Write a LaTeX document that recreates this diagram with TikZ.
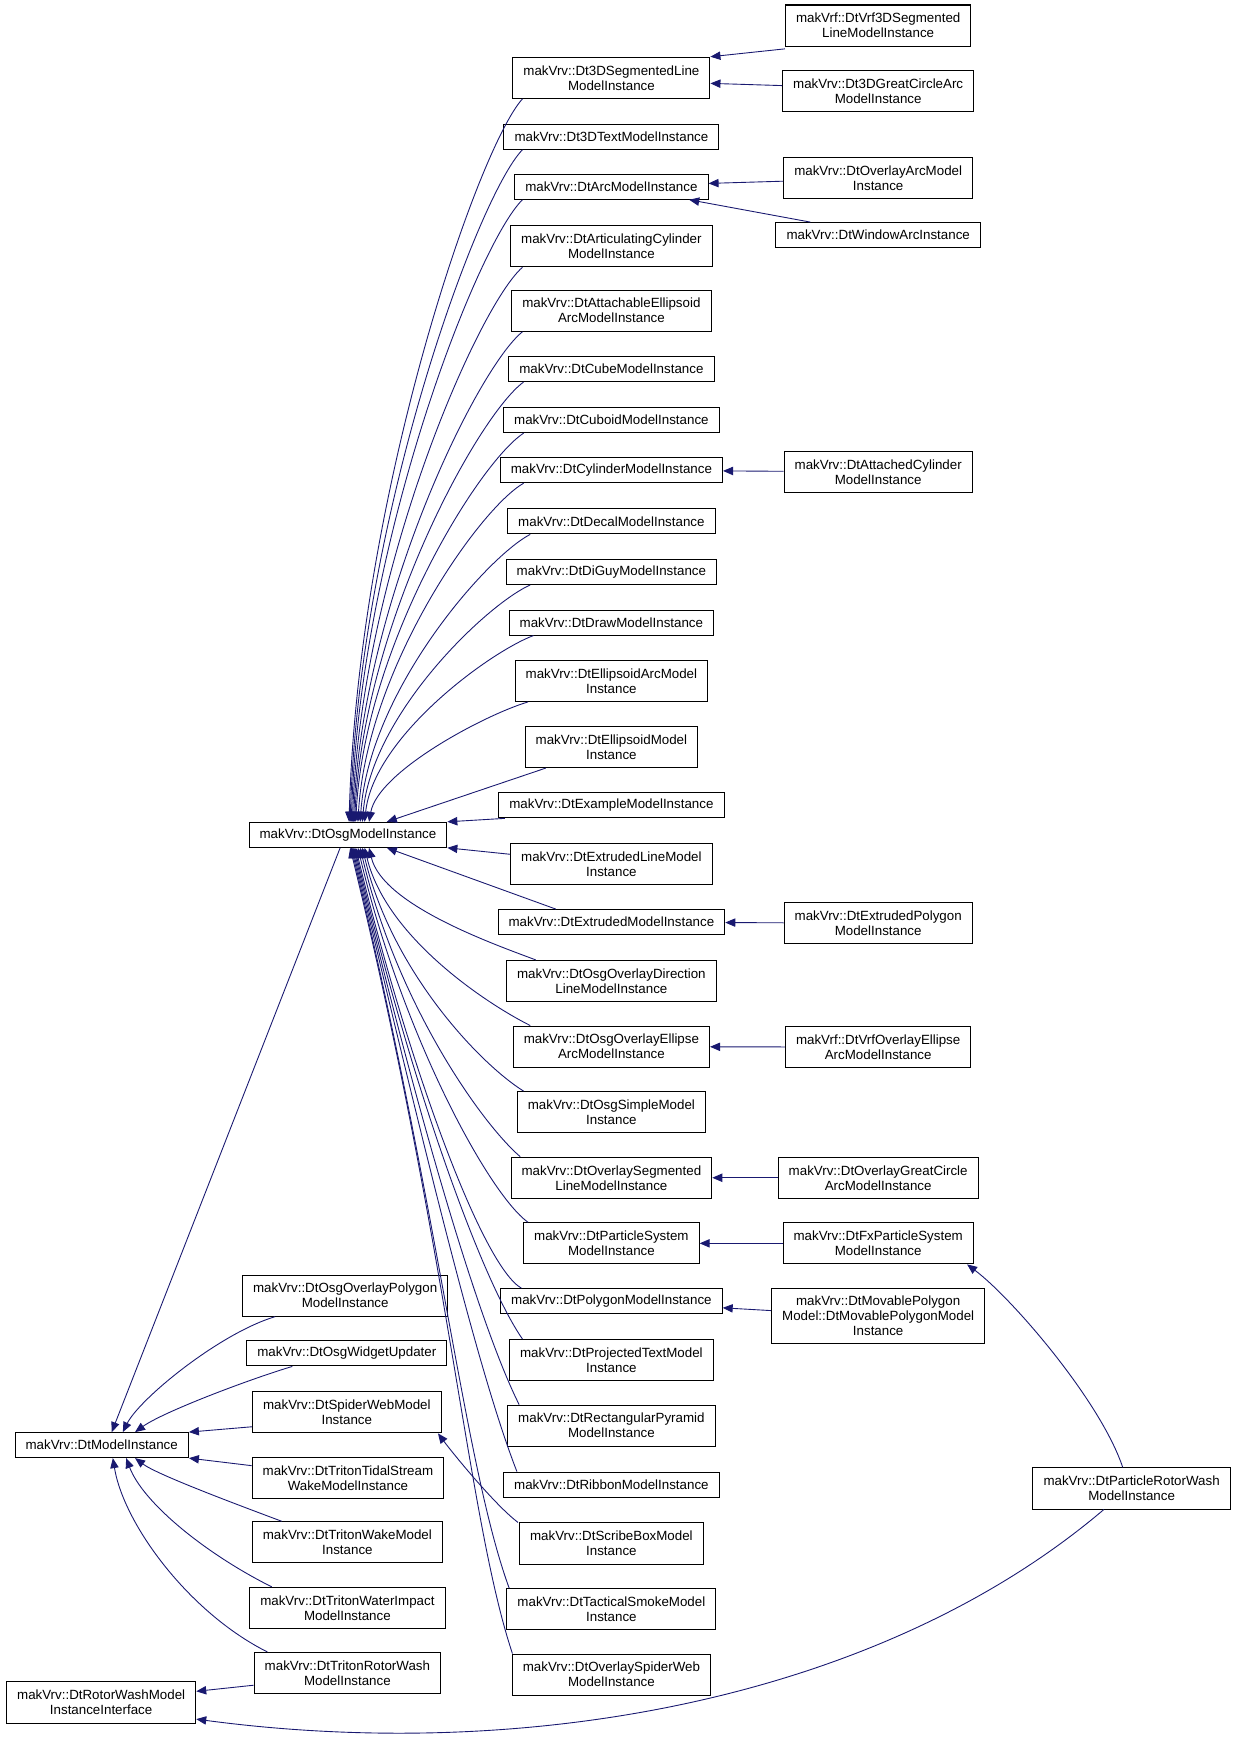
\documentclass[tikz,border=0pt]{standalone}
\usepackage{fontspec}
\setmainfont{Liberation Sans}
\usetikzlibrary{arrows.meta}
\definecolor{edgeblue}{RGB}{25,25,112}

\begin{document}
\begin{tikzpicture}[x=1pt,y=-1pt,
  cls/.style={draw, line width=0.9pt, fill=white, align=center,
    font=\fontsize{12}{13.5}\selectfont, inner xsep=9.5pt, inner ysep=2pt,
    minimum height=22.5pt},
  two/.style={minimum height=37pt},
  three/.style={minimum height=50pt},
  edge/.style={draw=edgeblue, line width=0.8pt, -{Triangle[length=9pt,width=7.5pt]}}]

\useasboundingbox (0,0) rectangle (1113,1568);

% left columns
\node[cls] (mi) at (91.5,1300) {makVrv::DtModelInstance};
\node[cls,two] (rwi) at (91,1531.5) {makVrv::DtRotorWashModel\\InstanceInterface};
\node[cls] (osg) at (313,751) {makVrv::DtOsgModelInstance};
\node[cls,two] (oop) at (310.5,1165.5) {makVrv::DtOsgOverlayPolygon\\ModelInstance};
\node[cls] (owu) at (312,1217.5) {makVrv::DtOsgWidgetUpdater};
\node[cls,two] (swm) at (312,1270.5) {makVrv::DtSpiderWebModel\\Instance};
\node[cls,two] (tts) at (313,1329.5) {makVrv::DtTritonTidalStream\\WakeModelInstance};
\node[cls,two] (twm) at (312.5,1387.5) {makVrv::DtTritonWakeModel\\Instance};
\node[cls,two] (twi) at (312.5,1446.5) {makVrv::DtTritonWaterImpact\\ModelInstance};
\node[cls,two] (trw) at (312.5,1505) {makVrv::DtTritonRotorWash\\ModelInstance};

% middle column
\node[cls,two] (c3dseg) at (550,70) {makVrv::Dt3DSegmentedLine\\ModelInstance};
\node[cls] (c3dtext) at (550,123) {makVrv::Dt3DTextModelInstance};
\node[cls] (carc) at (550,168) {makVrv::DtArcModelInstance};
\node[cls,two] (cartic) at (550,221.5) {makVrv::DtArticulatingCylinder\\ModelInstance};
\node[cls,two] (cattach) at (550,279.5) {makVrv::DtAttachableEllipsoid\\ArcModelInstance};
\node[cls] (ccube) at (550,332) {makVrv::DtCubeModelInstance};
\node[cls] (ccuboid) at (550,378) {makVrv::DtCuboidModelInstance};
\node[cls] (ccyl) at (550,423) {makVrv::DtCylinderModelInstance};
\node[cls] (cdecal) at (550,469) {makVrv::DtDecalModelInstance};
\node[cls] (cdiguy) at (550,514.5) {makVrv::DtDiGuyModelInstance};
\node[cls] (cdraw) at (550,560) {makVrv::DtDrawModelInstance};
\node[cls,two] (cellarc) at (550,612.5) {makVrv::DtEllipsoidArcModel\\Instance};
\node[cls,two] (cellmod) at (550,672) {makVrv::DtEllipsoidModel\\Instance};
\node[cls] (cex) at (550,724.5) {makVrv::DtExampleModelInstance};
\node[cls,two] (cextl) at (550,777.5) {makVrv::DtExtrudedLineModel\\Instance};
\node[cls] (cextm) at (550,829.5) {makVrv::DtExtrudedModelInstance};
\node[cls,two] (cdir) at (550,882.5) {makVrv::DtOsgOverlayDirection\\LineModelInstance};
\node[cls,two] (cell) at (550,941.5) {makVrv::DtOsgOverlayEllipse\\ArcModelInstance};
\node[cls,two] (csimple) at (550,1000.5) {makVrv::DtOsgSimpleModel\\Instance};
\node[cls,two] (cseg) at (550,1059.5) {makVrv::DtOverlaySegmented\\LineModelInstance};
\node[cls,two] (cpart) at (550,1118.5) {makVrv::DtParticleSystem\\ModelInstance};
\node[cls] (cpoly) at (550,1170.5) {makVrv::DtPolygonModelInstance};
\node[cls,two] (cproj) at (550,1223.5) {makVrv::DtProjectedTextModel\\Instance};
\node[cls,two] (crect) at (550,1282.5) {makVrv::DtRectangularPyramid\\ModelInstance};
\node[cls] (cribbon) at (550,1335.5) {makVrv::DtRibbonModelInstance};
\node[cls,two] (cscribe) at (550,1388.5) {makVrv::DtScribeBoxModel\\Instance};
\node[cls,two] (ctact) at (550,1447.5) {makVrv::DtTacticalSmokeModel\\Instance};
\node[cls,two] (cosw) at (550,1506.5) {makVrv::DtOverlaySpiderWeb\\ModelInstance};

% right columns
\node[cls,two] (vrf3d) at (790,23) {makVrf::DtVrf3DSegmented\\LineModelInstance};
\node[cls,two] (gca) at (790,82) {makVrv::Dt3DGreatCircleArc\\ModelInstance};
\node[cls,two] (oarc) at (790,160) {makVrv::DtOverlayArcModel\\Instance};
\node[cls] (warc) at (790,211.5) {makVrv::DtWindowArcInstance};
\node[cls,two] (acyl) at (790,424.5) {makVrv::DtAttachedCylinder\\ModelInstance};
\node[cls,two] (epoly) at (790,830.5) {makVrv::DtExtrudedPolygon\\ModelInstance};
\node[cls,two] (vell) at (790,942) {makVrf::DtVrfOverlayEllipse\\ArcModelInstance};
\node[cls,two] (ogc) at (790,1059.5) {makVrv::DtOverlayGreatCircle\\ArcModelInstance};
\node[cls,two] (fx) at (790,1118.5) {makVrv::DtFxParticleSystem\\ModelInstance};
\node[cls,three] (mpoly) at (790,1184) {makVrv::DtMovablePolygon\\Model::DtMovablePolygonModel\\Instance};
\node[cls,two] (prw) at (1018,1339) {makVrv::DtParticleRotorWash\\ModelInstance};

% children of DtOsgModelInstance, above it
\foreach \n/\s/\e/\a/\b in {c3dseg/-80/1/44/-293, c3dtext/-80/2/41/-273,
    carc/-80/3/39/-252, cartic/-80/4/35/-225, cattach/-80/5/32/-199,
    ccube/-79/6/29/-179, ccuboid/-79/7/26/-158, ccyl/-79/9/23/-138,
    cdecal/-73/11/21/-117, cdiguy/-73/13/18/-96, cdraw/-70/15/15/-76,
    cellarc/-75/19/12/-45}
  \draw[edge] ([xshift=\s pt]\n.south) .. controls +(-40,\a) and +(8,\b) .. ([xshift=\e pt]osg.north);
\draw[edge] ([xshift=-59pt]cellmod.south) -- ([xshift=35pt]osg.north);
\draw[edge] ([xshift=6pt]cex.south west) -- (osg.north east);

% children of DtOsgModelInstance, below it
\draw[edge] ([yshift=9pt]cextl.west) -- (osg.south east);
\draw[edge] ([xshift=-50pt]cextm.north) -- ([xshift=35pt]osg.south);
\foreach \n/\s/\e/\ax/\ay/\bx/\by in {cdir/-68/19/-40/-15/12/51, cell/-73/15/-40/-20/19/80,
    csimple/-79/13/-40/-25/26/110, cseg/-82/11/-35/-30/33/140, cpart/-75/9/-35/-25/40/169,
    cpoly/-81/7/-35/-20/48/198, cproj/-80/6/-35/-50/53/222, crect/-83/5/-35/-70/60/251,
    cribbon/-85/4/-35/-90/67/281, ctact/-92/3/-40/-110/80/333, cosw/-89/2/-40/-120/90/370}
  \draw[edge] ([xshift=\s pt]\n.north) .. controls +(\ax,\ay) and +(\bx,\by) .. ([xshift=\e pt]osg.south);

% children of DtModelInstance
\draw[edge] ([xshift=-7pt]osg.south) -- ([xshift=9pt]mi.north);
\draw[edge] ([xshift=-63pt]oop.south) .. controls +(-50,15) and +(15,-30) .. ([xshift=19pt]mi.north);
\draw[edge] ([xshift=-49pt]owu.south) .. controls +(-40,12) and +(25,-18) .. ([xshift=30pt]mi.north);
\draw[edge] ([yshift=-13pt]swm.west) -- (mi.north east);
\draw[edge] ([yshift=11pt]tts.west) -- (mi.south east);
\draw[edge] ([xshift=-59pt]twm.north) .. controls +(-40,-15) and +(20,15) .. ([xshift=30pt]mi.south);
\draw[edge] ([xshift=-68pt]twi.north) .. controls +(-60,-30) and +(15,40) .. ([xshift=22pt]mi.south);
\draw[edge] ([xshift=-72pt]trw.north) .. controls +(-70,-35) and +(10,60) .. ([xshift=10pt]mi.south);

% rotor wash interface
\draw[edge] ([yshift=-11pt]trw.west) -- ([yshift=10pt]rwi.east);
\draw[edge] ([xshift=-25pt]prw.south) .. controls +(-200,170) and +(300,40) .. ([yshift=-15pt]rwi.east);

% other links
\draw[edge] ([xshift=-84pt]cscribe.north) .. controls +(-20,-15) and +(15,20) .. ([xshift=82pt]swm.south);
\draw[edge] ([xshift=-8pt]prw.north) .. controls +(-20,-60) and +(40,30) .. ([xshift=80pt]fx.south);
\draw[edge] ([yshift=-2pt]vrf3d.south west) -- (c3dseg.north east);
\draw[edge] ([yshift=5pt]gca.west) -- ([yshift=-5pt]c3dseg.east);
\draw[edge] ([yshift=-3pt]oarc.west) -- ([yshift=3pt]carc.east);
\draw[edge] ([xshift=-61pt]warc.north) -- ([xshift=70pt]carc.south);
\draw[edge] ([yshift=5pt]mpoly.west) -- ([yshift=-6pt]cpoly.east);
\foreach \c/\p in {acyl/ccyl, epoly/cextm, vell/cell, ogc/cseg, fx/cpart}
  \draw[edge] (\c) -- (\p);

\end{tikzpicture}
\end{document}
